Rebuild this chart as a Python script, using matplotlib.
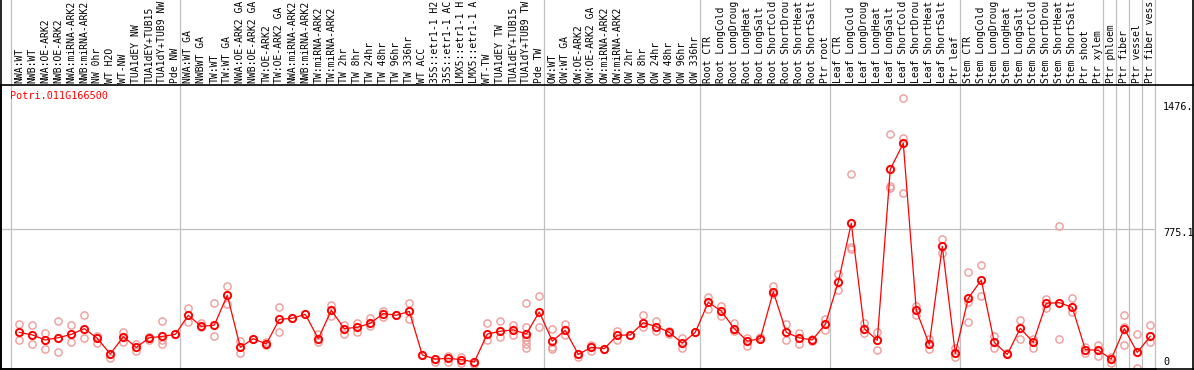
import matplotlib
matplotlib.use('Agg')
import matplotlib.pyplot as plt
from matplotlib.lines import Line2D
from matplotlib.transforms import blended_transform_factory
import numpy as np

# sample names along the top
labels = [
    "NWA:WT", "NWB:WT", "NWA:OE-ARK2", "NWB:OE-ARK2", "NWA:miRNA-ARK2",
    "NWB:miRNA-ARK2", "NW 0hr", "WT H2O", "WT-NW", "TUA1dEY NW",
    "TUA1dEY+TUB15", "TUA1dY+TUB9 NW", "Pde NW",
    "NWA:WT GA", "NWBWT GA", "TW:WT", "TW:WT GA", "NWA:OE-ARK2 GA",
    "NWB:OE-ARK2 GA", "TW:OE-ARK2", "TW:OE-ARK2 GA", "NWA:miRNA-ARK2",
    "NWB:miRNA-ARK2", "TW:miRNA-ARK2", "TW:miRNA-ARK2", "TW 2hr", "TW 8hr",
    "TW 24hr", "TW 48hr", "TW 96hr", "TW 336hr", "WT ACC", "35S::etr1-1 H2",
    "35S::etr1-1 AC", "LMX5::etr1-1 H", "LMX5::etr1-1 A", "WT-TW",
    "TUA1dEY TW", "TUA1dEY+TUB15", "TUA1dY+TUB9 TW", "Pde TW",
    "OW:WT", "OW:WT GA", "OW:OE-ARK2", "OW:OE-ARK2 GA", "OW:miRNA-ARK2",
    "OW:miRNA-ARK2", "OW 2hr", "OW 8hr", "OW 24hr", "OW 48hr", "OW 96hr",
    "OW 336hr",
    "Root CTR", "Root LongCold", "Root LongDroug", "Root LongHeat",
    "Root LongSalt", "Root ShortCold", "Root ShortDrou", "Root ShortHeat",
    "Root ShortSalt", "Ptr root",
    "Leaf CTR", "Leaf LongCold", "Leaf LongDroug", "Leaf LongHeat",
    "Leaf LongSalt", "Leaf ShortCold", "Leaf ShortDrou", "Leaf ShortHeat",
    "Leaf ShortSalt", "Ptr leaf",
    "Stem CTR", "Stem LongCold", "Stem LongDroug", "Stem LongHeat",
    "Stem LongSalt", "Stem ShortCold", "Stem ShortDrou", "Stem ShortHeat",
    "Stem ShortSalt", "Ptr shoot",
    "Ptr xylem", "Ptr phloem", "Ptr fiber", "Ptr vessel", "Ptr fiber vess",
]

# mean expression per sample
means = [
    216, 202, 175, 187, 205, 236, 184, 99, 193, 135, 187, 194, 205,
    308, 248, 255, 416, 135, 182, 153, 286, 292, 313, 182, 335, 236, 243,
    265, 317, 308, 329, 94, 72, 76, 69, 56, 207, 222, 229, 207, 326,
    169, 227, 97, 135, 128, 200, 202, 268, 247, 216, 157, 216,
    378, 331, 236, 169, 182, 435, 216, 186, 175, 259,
    488, 804, 236, 173, 1095, 1236, 335, 151, 680, 103,
    400, 498, 162, 97, 238, 162, 373, 376, 351, 123,
    119, 72, 236, 108, 195,
]

# individual replicates (visible ones)
reps = [
    [259, 177], [253, 155], [211, 128], [275, 109], [253, 162], [308, 184],
    [198, 160], [99, 76], [216, 166], [153, 117], [193, 175], [275, 175, 153],
    [205],
    [347, 270], [265, 246], [373, 194], [464, 368], [169, 106], [182],
    [162, 147], [353, 216], [293], [313], [205, 164], [365, 306], [253, 205],
    [265, 218], [295, 250], [329, 300], [308], [374, 286], [94], [58],
    [90, 58], [85, 52], [43], [267, 175], [277, 193], [253, 203],
    [374, 245, 193, 175, 153, 130], [410, 243],
    [236, 135, 124], [261, 199], [85], [148, 117], [128], [225, 173], [202],
    [308, 246], [279, 223], [223, 205], [185, 131], [216],
    [408, 340], [360, 306], [265, 223], [185, 142], [193], [468, 422],
    [261, 175], [214, 155], [180, 169], [288, 229],
    [529, 443], [1070, 678, 664], [268, 210], [220, 123], [1284, 1005, 993],
    [1478, 1263, 966], [358, 310], [180, 126], [720, 642], [130, 85],
    [540, 381, 274], [577, 412], [198, 130], [103], [283, 178], [180, 130],
    [398, 349], [789, 178], [400, 328], [135, 103],
    [148, 88], [85, 49], [308, 247, 148], [207, 22], [254, 166],
]

# group boundaries (after this many samples)
group_ends = [0, 13, 41, 53, 63, 73, 84, 85, 86, 87, 88]

W, H = 1194, 370
fig = plt.figure(figsize=(W / 100, H / 100), dpi=100)
ax = fig.add_axes([1 / W, 1 / H, 1155 / W, 284 / H])

x = np.arange(len(means))
ax.set_xlim(-1.408, 87.44)
ax.set_ylim(18.3, 1550)

grey = '#c0c0c0'
for k in group_ends:
    ax.axvline(k - 1 + 0.385, ymin=0, ymax=1.3, color=grey, lw=0.9, clip_on=False, zorder=1)
ax.axhline(775.1, color=grey, lw=0.9, zorder=1)

rx = [i for i, r in enumerate(reps) for _ in r]
ry = [v for r in reps for v in r]
ax.plot(rx, ry, 'o', ms=5.2, mfc='none', mec='#f09a9a', mew=1.0, zorder=2)
ax.plot(x, means, '-', color='red', lw=0.9, zorder=3)
ax.plot(x, means, 'o', ms=5.2, mfc='none', mec='red', mew=1.4, zorder=4)

ax.set_xticks([])
ax.set_yticks([])
for s in ['top', 'right']:
    ax.spines[s].set_visible(False)
for s in ['left', 'bottom']:
    ax.spines[s].set_color('black')
    ax.spines[s].set_linewidth(1.2)

# sample labels in the header band
trans = blended_transform_factory(ax.transData, fig.transFigure)
for i, lab in enumerate(labels):
    ax.text(i, (H - 83) / H, lab, transform=trans, rotation=90, ha='center',
            va='bottom', fontsize=7, family='DejaVu Sans Mono', clip_on=False)

# frame lines
fig.add_artist(Line2D([0, 1], [(H - 85) / H] * 2, color='black', lw=1.2))
fig.add_artist(Line2D([1 / W] * 2, [0, 1], color='black', lw=1.2))
fig.add_artist(Line2D([1193 / W] * 2, [0, 1], color='black', lw=1.2))
fig.add_artist(Line2D([0, 1], [1 / H] * 2, color='black', lw=1.2))

fig.text(10 / W, (H - 96) / H, "Potri.011G166500", color='red', fontsize=7.3,
         family='DejaVu Sans Mono', va='center', ha='left')

# value marks on the right
for val, lab, yp in [(1476, "1476.", 107), (775.1, "775.1", 232.7), (0, "0", 361.7)]:
    fig.text(1163 / W, (H - yp) / H, lab, fontsize=7.3, family='DejaVu Sans Mono',
             va='center', ha='left')

fig.savefig('out.png', dpi=100)
